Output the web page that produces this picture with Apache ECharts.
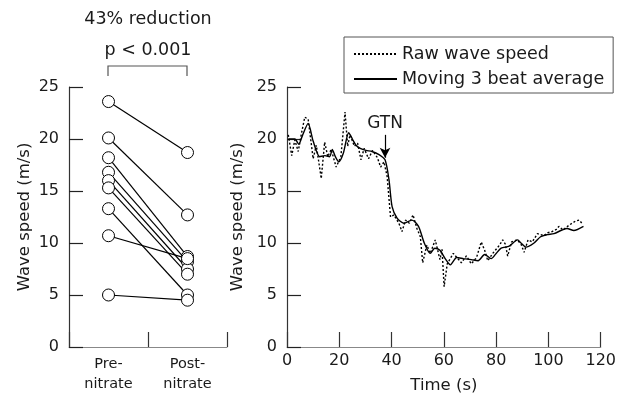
<!DOCTYPE html>
<html><head><meta charset="utf-8">
<script src="https://cdn.jsdelivr.net/npm/echarts@6/dist/echarts.min.js"></script>
<style>html,body{margin:0;padding:0;background:#fff}#c{width:619px;height:400px}</style>
</head><body><div id="c"></div>
<script>
const groupCategories = ['Pre-\nnitrate', 'Post-\nnitrate'];
const preNitrate  = [23.6, 20.1, 18.2, 16.8, 16.0, 15.3, 13.3, 10.7, 5.0];
const postNitrate = [18.7, 12.7, 8.7, 8.2, 7.5, 7.0, 5.0, 8.5, 4.5];

const rawTime = [0.5,1.8,3.0,4.3,5.5,6.8,8.1,10.0,11.2,13.1,14.4,15.6,16.9,18.8,20.6,22.2,23.2,24.1,25.8,27.0,28.3,29.5,31.2,32.7,34.6,35.8,37.1,38.3,39.6,40.9,42.8,44.0,45.3,46.8,48.2,49.7,51.0,51.9,53.5,54.8,56.7,58.5,59.3,60.1,61.3,63.6,65.0,66.7,68.6,70.5,72.5,74.3,75.6,76.8,78.7,80.0,81.3,82.5,83.5,84.4,85.9,88.0,89.5,90.7,92.2,93.8,95.8,98.3,99.8,101.4,103.0,104.0,105.6,107.8,110.3,111.8,112.8];
const rawSpeed = [20.4,18.4,19.9,18.8,20.5,22.1,21.9,18.1,19.4,16.2,19.7,18.3,19.0,17.3,18.3,22.6,19.3,20.4,19.3,19.6,18.0,19.1,18.1,18.9,18.2,17.3,17.8,16.4,12.5,12.7,11.9,11.1,12.2,11.9,12.7,11.4,10.6,8.1,9.8,9.0,10.3,8.4,9.4,5.8,8.0,9.0,8.6,8.1,8.75,8.0,8.6,10.1,9.3,8.3,9.0,9.4,9.8,10.3,9.9,8.75,10.1,10.3,9.9,9.1,10.3,10.1,10.9,10.7,11.0,11.1,11.3,11.6,11.25,11.7,12.1,12.2,11.9];

const avgTime = [0.5,3.0,4.5,6.0,8.1,10.0,12.5,14.5,16.3,17.3,18.5,19.8,21.5,23.6,25.0,26.4,28.0,30.2,32.5,35.2,37.5,39.0,40.2,42.1,44.7,47.8,50.3,52.5,54.8,56.5,58.5,60.5,62.5,64.9,67.5,70.5,73.1,75.6,78.1,80.0,81.9,85.0,88.2,89.5,91.4,94.5,97.0,99.5,102.1,105.2,107.1,109.7,113.4];
const avgSpeed = [20.0,20.0,19.5,20.4,21.5,19.8,18.3,18.4,18.3,19.0,18.3,17.8,18.6,20.6,20.0,19.4,19.1,18.9,18.8,18.5,18.0,16.1,13.5,12.4,11.9,12.2,11.6,10.0,9.0,9.5,9.3,8.5,7.9,8.6,8.5,8.4,8.3,8.9,8.5,9.0,9.5,9.7,10.3,10.0,9.6,10.0,10.6,10.8,10.9,11.25,11.4,11.2,11.6];

const timeTicks = [0, 20, 40, 60, 80, 100, 120];
const speedTicks = [0, 5, 10, 15, 20, 25];

const FONT = 'DejaVu Sans';
const TXT = '#1a1a1a';

const pairSeries = preNitrate.map((p, i) => ({
  type: 'line', xAxisIndex: 0, yAxisIndex: 0,
  data: [p, postNitrate[i]],
  symbol: 'circle', symbolSize: 12,
  itemStyle: { color: '#fff', borderColor: '#000', borderWidth: 1 },
  lineStyle: { color: '#000', width: 1.2 },
  z: 3, silent: true
}));

function yAxisCfg(grid) {
  return {
    type: 'value', gridIndex: grid, min: speedTicks[0], max: speedTicks[speedTicks.length - 1], interval: 5,
    name: 'Wave speed (m/s)', nameLocation: 'middle', nameGap: 36,
    nameTextStyle: { fontFamily: FONT, fontSize: 16.5, color: TXT },
    axisLine: { show: true, lineStyle: { color: '#333', width: 1.2 } },
    axisTick: { show: true, inside: true, length: 14, lineStyle: { color: '#222', width: 1.2 } },
    axisLabel: { fontFamily: FONT, fontSize: 16, color: TXT, margin: 10 },
    splitLine: { show: false }
  };
}

const chart = echarts.init(document.getElementById('c'));
chart.setOption({
  animation: false,
  backgroundColor: '#fff',
  grid: [
    { left: 69, right: 392, top: 87, bottom: 53 },
    { left: 287, right: 15, top: 87, bottom: 53 }
  ],
  legend: {
    data: [
      { name: 'Raw wave speed', itemStyle: { opacity: 0 } },
      { name: 'Moving 3 beat average', itemStyle: { opacity: 0 } }
    ],
    orient: 'vertical', left: 344, top: 37,
    itemWidth: 43, itemHeight: 14, itemGap: 5,
    padding: [7, 9, 4, 9],
    borderColor: '#555', borderWidth: 1,
    textStyle: { fontFamily: FONT, fontSize: 17.5, color: TXT, lineHeight: 20 },
    selectedMode: false
  },
  xAxis: [
    {
      type: 'category', gridIndex: 0, data: groupCategories, boundaryGap: true,
      axisLine: { lineStyle: { color: '#888', width: 1.2 } },
      axisTick: { show: true, inside: true, length: 15, lineStyle: { color: '#333', width: 1.2 } },
      axisLabel: { fontFamily: FONT, fontSize: 14.5, color: TXT, margin: 7, lineHeight: 20 }
    },
    {
      type: 'value', gridIndex: 1, min: timeTicks[0], max: timeTicks[timeTicks.length - 1], interval: 20,
      name: 'Time (s)', nameLocation: 'middle', nameGap: 30,
      nameTextStyle: { fontFamily: FONT, fontSize: 16.5, color: TXT },
      axisLine: { lineStyle: { color: '#888', width: 1.2 } },
      axisTick: { show: true, inside: true, length: 15, lineStyle: { color: '#333', width: 1.2 } },
      axisLabel: { fontFamily: FONT, fontSize: 16, color: TXT, margin: 6 },
      splitLine: { show: false }
    }
  ],
  yAxis: [yAxisCfg(0), yAxisCfg(1)],
  series: pairSeries.concat([
    {
      name: 'Raw wave speed', type: 'line', xAxisIndex: 1, yAxisIndex: 1,
      data: rawTime.map((t, i) => [t, rawSpeed[i]]),
      symbol: 'none', lineStyle: { color: '#000', width: 1.4, type: [2, 2] },
      itemStyle: { color: '#000' }
    },
    {
      name: 'Moving 3 beat average', type: 'line', xAxisIndex: 1, yAxisIndex: 1,
      data: avgTime.map((t, i) => [t, avgSpeed[i]]),
      symbol: 'none', smooth: 0.25, lineStyle: { color: '#000', width: 1.4 },
      itemStyle: { color: '#000' },
      markLine: {
        silent: true, symbolSize: [8, 10],
        lineStyle: { color: '#000', width: 1.2, type: 'solid' },
        label: { show: true, position: 'start', formatter: 'GTN', fontFamily: FONT, fontSize: 17, color: TXT, distance: 3 },
        data: [[{ coord: [37.5, 20.4], symbol: 'none' }, { coord: [37.5, 18.2], symbol: 'arrow' }]]
      }
    }
  ]),
  graphic: [
    { type: 'text', style: { text: '43% reduction', fontFamily: FONT, fontSize: 17.5, fill: TXT, x: 148, y: 19, align: 'center', verticalAlign: 'middle' } },
    { type: 'text', style: { text: 'p < 0.001', fontFamily: FONT, fontSize: 17.5, fill: TXT, x: 148, y: 50, align: 'center', verticalAlign: 'middle' } },
    { type: 'polyline', shape: { points: [[108, 76], [108, 66], [187, 66], [187, 76]] }, style: { stroke: '#555', lineWidth: 1.2, fill: null } }
  ]
});
</script></body></html>
